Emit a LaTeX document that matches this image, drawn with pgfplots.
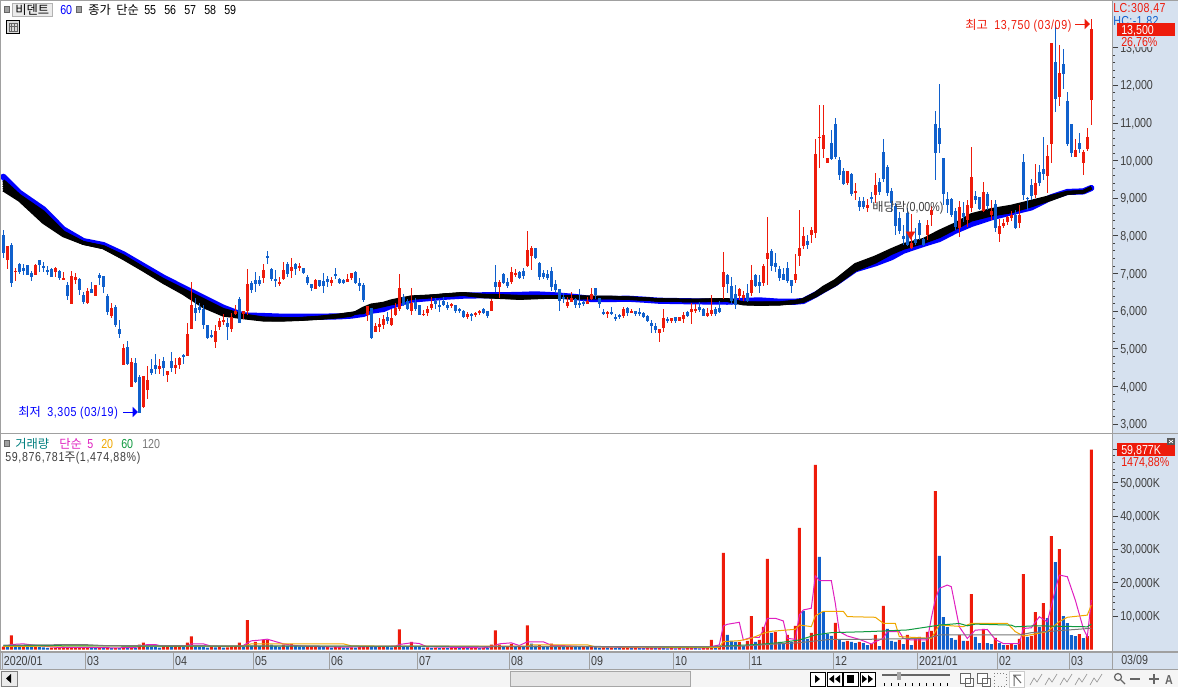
\documentclass[border=0pt]{standalone}
\usepackage{pgfplots}
\usepackage{pgfplotstable}
\usepackage{fontspec}
\pgfplotsset{compat=1.18}
\usetikzlibrary{arrows.meta}
\setmainfont{Liberation Sans}[FakeStretch=0.82]
\newfontfamily\kr{Noto Sans CJK KR}
\definecolor{cred}{HTML}{EE1B0B}
\definecolor{cblue}{HTML}{1060CC}
\definecolor{panel}{HTML}{D6E1EF}
\definecolor{frame}{HTML}{A0A0A0}
\definecolor{txt}{HTML}{404040}
\definecolor{mpink}{HTML}{E020C0}
\definecolor{morange}{HTML}{F0A800}
\definecolor{mgreen}{HTML}{109A40}
\definecolor{mgrey}{HTML}{787878}
\newcommand{\tf}{\fontsize{9.75}{11}\selectfont}
\newcommand{\kf}{\fontsize{9.2}{11}\selectfont\kr}
\newcommand{\ls}{\addfontfeatures{LetterSpace=5}}

% candles: x open high low close
\pgfplotstableread{
x o h l c
1 7360 7730 7125 7730
3 7040 7135 6800 7065
8 6970 7240 6970 7225
13 7050 7180 6915 7155
15 6835 7050 6825 6890
17 6190 7065 6190 6930
18 6835 7005 6720 6905
21 6205 6605 6190 6535
23 6400 6695 6400 6695
27 5870 6205 5810 6090
30 4570 5115 4570 5020
32 3985 4745 3985 4645
35 3450 4275 3425 4275
36 3905 4540 3655 4170
39 4460 4720 4330 4540
41 4300 4410 4115 4410
43 4490 4745 4330 4570
44 4570 4790 4460 4755
46 4805 5690 4805 5390
47 5525 6775 5525 6160
53 5180 5630 5020 5470
54 5575 5810 5500 5735
55 5720 5925 5630 5765
57 5525 5940 5445 5845
58 5925 6160 5895 6000
60 5925 6000 5790 6000
61 6000 7120 5895 6720
65 6880 7250 6740 7090
69 6730 6915 6665 6775
70 6860 7315 6825 7090
72 7065 7410 6880 7170
74 7135 7280 7065 7205
78 6585 6855 6585 6825
82 6745 6895 6665 6825
86 6775 6985 6775 6855
87 6880 7010 6825 7010
91 5895 6135 5735 6135
93 5445 5685 5445 5605
94 5575 5815 5445 5655
95 5630 5895 5525 5790
97 5630 6055 5605 5815
98 5895 6215 5870 6080
99 6055 6985 6005 6615
102 6005 6615 5895 6215
105 5895 6030 5870 5925
106 5950 6135 5870 6055
107 6080 6375 6030 6190
112 6135 6215 6080 6190
116 5845 5975 5790 5925
118 5895 5975 5845 5950
119 5950 6030 5895 6005
122 6005 6320 6005 6270
124 6640 6825 6350 6775
127 6775 7170 6720 7040
128 6960 7120 6905 7010
131 7200 8130 7170 7625
132 7465 7730 7090 7675
141 6135 6375 6080 6240
142 6240 6510 6240 6350
146 6190 6375 6190 6270
147 6320 6615 6295 6455
151 5950 6005 5815 5975
155 5870 6110 5815 6055
157 5950 6055 5950 6005
164 5420 5525 5180 5525
165 5550 6055 5445 5815
167 5735 5815 5685 5815
169 5735 5845 5735 5845
170 5790 5975 5685 5895
172 5975 6215 5655 6055
173 6030 6190 5950 6055
176 5870 6080 5845 5950
177 5925 6430 5870 6030
180 6640 7570 6320 7040
184 6400 6615 6295 6585
185 6350 6535 6270 6430
187 6480 7225 6400 6825
190 6745 7250 6665 7200
191 7385 8500 6695 7545
198 6825 7515 6745 6985
199 7465 8685 7200 7675
200 7730 8235 7650 7995
202 8020 8235 7810 8155
203 8075 10565 7940 10175
204 10600 11475 9800 10625
205 10305 11475 10060 10680
206 9935 10070 9935 10070
211 9405 9725 9350 9725
213 9140 9415 8950 9190
216 8740 8980 8635 8820
218 9085 9660 8865 9350
227 7675 8580 7640 7810
231 8020 8420 7890 8290
232 8555 8795 8260 8685
239 8200 8925 7975 8765
241 8420 8950 8245 8820
242 8740 10360 8635 9565
245 8660 9430 8635 9165
247 8555 8950 8420 8660
249 8050 8445 7835 8260
250 8260 8445 8210 8340
251 8365 8525 8290 8500
252 8475 8660 8395 8555
254 8340 8820 8210 8555
258 9085 9910 9005 9405
261 9590 10415 9140 10120
262 10440 13125 9935 13125
264 11690 13070 11450 12325
268 10095 10575 10095 10280
270 9935 10280 9615 10225
271 10305 10865 10255 10625
272 11610 13750 10945 13500
}\upc
\pgfplotstableread{
x o h l c
0 8020 8155 7420 7535
2 7755 7800 6650 6740
4 7250 7285 6975 7030
5 7145 7250 6960 7075
6 7225 7225 6970 6970
7 7020 7075 6800 6915
9 7360 7360 7050 7225
10 7200 7295 7050 7145
11 7090 7200 6950 7030
12 7125 7155 6905 6905
14 7075 7090 6825 6880
16 6695 6780 6295 6400
19 6855 6870 6435 6560
20 6430 6515 6190 6240
22 6585 6780 6470 6490
24 6960 7005 6695 6890
25 6930 6940 6470 6630
26 6410 6455 5895 5975
28 6110 6160 5585 5640
29 5525 5765 5285 5390
31 5045 5205 4570 4595
33 4620 4745 4080 4115
34 4260 4300 3305 3305
37 4460 4725 4300 4345
38 4570 4860 4330 4460
40 4675 4780 4275 4495
42 4675 4915 4390 4490
45 4835 4860 4595 4780
48 6080 6340 5735 5950
49 6110 6205 5940 6030
50 6055 6160 5525 5630
51 5630 5630 5260 5285
52 5365 5500 5285 5310
56 5685 5810 5230 5575
59 6320 6385 5685 5685
62 6745 6800 6470 6560
63 6825 7050 6515 6720
64 6825 6930 6665 6720
66 7465 7595 7250 7410
67 7120 7155 6800 6855
68 6855 7090 6650 6800
71 7250 7315 6915 6985
73 7250 7270 6960 7120
75 7145 7155 6985 7010
76 6905 6950 6695 6745
77 6720 6720 6535 6615
79 6825 6825 6640 6665
80 6800 7005 6480 6665
81 6855 6935 6640 6775
83 6985 7135 6860 6935
84 6855 6880 6720 6745
85 6825 6855 6720 6745
88 7040 7065 6720 6745
89 6745 6870 6535 6665
90 6695 6740 6240 6295
92 6090 6090 5260 5285
96 5845 5985 5655 5735
100 6375 6455 6135 6160
101 6270 6320 6030 6055
103 6240 6350 6005 6055
104 6155 6155 5895 5895
108 6270 6340 6055 6190
109 6160 6330 5975 6135
110 6270 6375 6135 6160
111 6160 6240 6030 6080
113 6160 6160 5950 6005
114 6055 6080 5950 6005
115 6005 6030 5815 5845
117 5925 5950 5735 5870
120 6055 6080 5925 5950
121 6005 6005 5815 5870
123 6775 7225 6510 6640
125 6985 7005 6720 6745
126 6775 6880 6615 6665
129 7040 7065 6855 6880
130 7065 7135 6855 6935
133 7675 7675 7385 7410
134 7280 7305 6825 6905
135 7010 7090 6855 6905
136 6985 7090 6825 6880
137 7065 7170 6535 6640
138 6720 6825 6480 6560
139 6585 6585 6005 6270
140 6375 6490 6205 6320
143 6320 6350 6080 6160
144 6215 6585 6080 6160
145 6240 6295 6135 6190
148 6615 6615 6320 6430
149 6350 6350 6080 6190
150 5975 6055 5895 5925
152 5975 6110 5895 5950
153 5845 5925 5735 5815
154 5895 5925 5790 5870
156 6080 6110 5870 5950
158 6005 6005 5870 5925
159 5975 6080 5870 5925
160 5950 5975 5815 5845
161 5870 5895 5710 5735
162 5685 5765 5420 5605
163 5605 5685 5420 5500
166 5790 5845 5685 5735
168 5845 5845 5685 5735
171 5975 6005 5845 5870
174 6110 6240 5975 6030
175 6055 6080 5870 5870
178 6055 6110 5870 5925
179 6080 6270 5950 5975
181 6960 6985 6480 6720
182 6665 6905 6160 6270
183 6455 6695 6055 6160
186 6480 6720 6240 6270
188 6960 6985 6640 6665
189 6775 6960 6480 6665
192 7595 7650 7065 7200
193 7280 7545 7040 7170
194 7120 7200 6800 6880
195 6985 7145 6825 6825
196 7145 7305 6745 6800
197 6825 6825 6480 6665
201 7865 8020 7650 7755
207 10465 10810 10015 10040
208 10970 11120 10040 10095
209 10015 10105 9485 9615
210 9725 9795 9350 9375
212 9645 9660 9060 9110
214 8925 9040 8660 8765
215 8925 9040 8705 8765
217 9030 9175 8865 8990
219 9430 9530 9085 9165
220 10230 10575 9430 9510
221 9830 9880 9060 9140
222 9190 9260 8640 8865
223 8795 8865 8020 8260
224 8475 8640 8050 8130
225 7995 8290 7755 7915
226 8605 8730 7730 7755
228 7915 8200 7755 7810
229 8340 8420 7890 8020
230 7915 7935 7730 7755
233 10970 11315 9485 10200
234 10865 12035 10190 10440
235 10070 10070 8820 9110
236 8980 9175 8600 8820
237 8980 9000 8510 8555
238 8660 8730 8155 8245
240 8600 8905 8375 8490
243 9060 9200 8845 8950
244 9030 9040 8685 8715
246 9110 9175 8685 8790
248 8845 8950 8100 8210
253 8555 8685 8180 8210
255 9960 10175 8950 9085
256 9005 9040 8685 8980
257 9350 9510 8950 9060
259 9695 9880 9325 9405
260 9775 10625 9485 9645
263 12620 13600 11290 11635
265 12565 12965 11900 12300
266 11580 11820 10385 10440
267 10970 10970 10095 10200
269 10465 10730 10200 10305
}\dnc
% moving averages of the close
\pgfplotstableread{
x m60 m55 m56 m57 m58 m59
0 9570 9220 9280 9340 9405 9465
4 9145 8950 8985 9015 9045 9075
10 8705 8360 8425 8495 8565 8635
15 8170 8005 8030 8055 8080 8100
20 7860 7800 7805 7810 7815 7820
25 7755 7685 7690 7700 7705 7710
30 7510 7400 7415 7435 7450 7465
35 7200 7090 7105 7120 7130 7145
40 6890 6765 6780 6800 6815 6835
45 6620 6470 6495 6520 6545 6570
50 6355 6120 6165 6210 6260 6305
55 6090 5895 5930 5965 6000 6040
60 5885 5825 5845 5860 5880 5895
65 5870 5765 5775 5790 5805 5815
70 5850 5765 5770 5780 5790 5800
74 5850 5780 5785 5790 5795 5800
79 5850 5810 5815 5820 5830 5835
84 5860 5850 5860 5875 5885 5895
87 5880 5895 5905 5920 5930 5940
90 5925 6075 6045 6015 5985 5960
92 6010 6160 6140 6115 6095 6075
95 6055 6205 6190 6175 6160 6145
97 6145 6270 6250 6235 6215 6195
99 6205 6315 6295 6275 6255 6235
102 6305 6375 6365 6355 6350 6340
107 6350 6400 6395 6390 6385 6385
111 6385 6435 6430 6430 6425 6420
115 6410 6465 6460 6455 6450 6445
120 6420 6420 6410 6400 6390 6385
124 6420 6410 6400 6390 6375 6365
129 6430 6390 6380 6365 6350 6340
133 6445 6390 6380 6375 6365 6355
138 6420 6375 6375 6375 6375 6375
143 6375 6385 6375 6365 6355 6350
147 6320 6365 6365 6360 6360 6355
152 6320 6365 6365 6360 6360 6355
156 6330 6350 6345 6345 6340 6340
160 6305 6325 6325 6325 6325 6325
164 6275 6295 6295 6295 6295 6295
172 6260 6280 6280 6280 6280 6280
181 6250 6305 6300 6295 6290 6285
185 6270 6215 6210 6205 6200 6195
189 6285 6215 6205 6200 6190 6180
194 6250 6215 6210 6200 6195 6190
198 6250 6260 6250 6240 6235 6225
200 6270 6305 6295 6280 6270 6260
203 6435 6470 6455 6435 6420 6400
205 6560 6630 6605 6580 6550 6525
208 6740 6810 6785 6755 6730 6700
213 7110 7235 7200 7165 7130 7090
218 7270 7435 7400 7370 7335 7305
222 7430 7630 7610 7585 7560 7535
225 7605 7765 7740 7715 7690 7670
230 7785 7900 7880 7860 7845 7825
234 7915 8120 8085 8050 8015 7980
238 8135 8315 8285 8255 8230 8200
242 8315 8560 8525 8490 8455 8420
247 8490 8695 8660 8625 8590 8555
252 8625 8785 8750 8715 8680 8640
257 8755 8915 8885 8860 8830 8800
262 9025 9050 9030 9010 8990 8970
266 9165 9155 9150 9140 9135 9130
270 9180 9175 9170 9170 9165 9165
272 9270 9280 9280 9275 9275 9270
}\mas
% volume (thousand shares), up and down days
\pgfplotstableread{
x v
0 900
2 4200
5 1000
8 850
12 550
13 600
14 650
15 700
16 600
17 650
18 700
19 650
20 600
21 650
24 550
26 500
28 450
30 500
32 500
34 1500
35 2100
40 700
41 750
43 900
44 900
46 2100
47 3900
52 700
54 700
56 650
57 800
58 900
59 2100
61 8830
63 2250
65 2900
66 2900
70 1500
72 1700
76 850
77 900
78 950
81 750
83 700
84 800
87 650
89 700
90 800
91 900
94 800
95 850
98 1000
99 6000
102 2300
106 650
108 550
110 500
112 450
113 500
115 500
117 500
118 550
120 550
122 1500
123 5700
124 1500
126 900
127 1700
129 900
131 7200
134 1300
137 1800
139 1300
141 1000
142 1100
145 800
147 800
150 650
152 600
155 550
156 600
158 550
161 450
162 500
164 450
167 400
169 400
171 400
172 450
175 400
176 600
177 2850
179 1050
180 28950
184 2250
186 2550
187 10000
189 2850
190 6750
191 27150
193 5250
196 4350
198 7050
199 36400
202 4950
203 55250
208 7950
211 2550
214 2250
217 1650
218 4350
220 13050
224 2850
226 4350
228 3150
229 3750
231 5250
232 5550
233 47450
239 4350
241 2550
242 16600
245 6150
248 3450
251 1350
252 1650
254 3150
255 22600
257 4050
258 11230
260 13900
262 33980
264 30090
269 4640
271 4040
272 59877
}\volup
\pgfplotstableread{
x v
1 700
3 1300
4 900
6 900
7 800
9 700
10 650
11 500
22 600
23 500
25 450
27 400
29 400
31 450
33 450
36 800
37 700
38 700
39 600
42 700
45 800
48 900
49 700
50 700
51 600
53 650
55 600
60 800
62 1200
64 1100
67 1500
68 1000
69 700
71 1000
73 1000
74 900
75 800
79 800
80 700
82 600
85 600
86 550
88 600
92 800
93 700
96 700
97 650
100 1000
101 900
103 800
104 700
105 600
107 500
109 450
111 400
114 450
116 450
119 500
121 500
125 800
128 800
130 800
132 1800
133 1200
135 1000
136 800
138 800
140 900
143 800
144 700
146 700
148 700
149 600
151 550
153 500
154 450
157 500
159 450
160 400
163 400
165 400
166 350
168 350
170 350
173 400
174 350
178 500
181 4350
182 2550
183 2250
185 1050
188 2250
192 4950
194 2250
195 1650
197 2250
200 11550
201 3150
204 27700
205 11250
206 4650
207 4050
209 2850
210 2250
212 2250
213 1950
215 1950
216 1350
219 1050
221 6150
222 2550
223 2250
225 1650
227 1350
230 2250
234 28000
235 9730
236 6740
237 3440
238 2850
240 2550
243 3750
244 1950
246 1950
247 1650
249 1950
250 1350
253 1350
256 3750
259 6740
261 9430
263 26200
265 10030
266 7930
267 4340
268 4040
270 3440
}\voldn

\begin{document}
\begin{tikzpicture}[x=0.75pt,y=-0.75pt,font=\tf]
\path[use as bounding box] (0,0) rectangle (1178,687);
\fill[white] (0,0) rectangle (1178,687);
\fill[panel] (1112,0) rectangle (1178,669);
\fill[panel] (0,652) rectangle (1178,669);
\fill[black!4] (0,670) rectangle (1178,687);

% price panel
\begin{axis}[
  at={(0.75pt,-324.75pt)}, anchor=south west,
  scale only axis, width=833.25pt, height=324pt,
  xmin=-0.575, xmax=277.175, ymin=2761, ymax=14239,
  xtick=\empty,
  ytick={3000,4000,5000,6000,7000,8000,9000,10000,11000,12000,13000},
  minor y tick num=4, ytick pos=right, tick align=outside,
  major tick length=4.5pt, minor tick length=2.25pt,
  tick style={color=txt, line width=0.6pt},
  axis line style={draw=none},
  scaled y ticks=false,
  /pgf/number format/assume math mode=true,
  /pgf/number format/1000 sep={,},
  yticklabel style={font=\tf, text=txt, anchor=west, inner xsep=1.5pt, yshift=-0.7pt},
  clip=true,
]
\addplot[blue, line width=4.6pt, line join=round, line cap=round] table[x=x,y=m60] {\mas};
\addplot[black, line width=2.4pt, line join=round] table[x=x,y=m55] {\mas};
\addplot[black, line width=2.4pt, line join=round] table[x=x,y=m56] {\mas};
\addplot[black, line width=2.4pt, line join=round] table[x=x,y=m57] {\mas};
\addplot[black, line width=2.4pt, line join=round] table[x=x,y=m58] {\mas};
\addplot[black, line width=2.4pt, line join=round] table[x=x,y=m59] {\mas};
% wicks
\addplot[draw=none, mark=none, error bars/.cd, y dir=both, y explicit, error mark=none,
  error bar style={draw=cred, line width=0.75pt}]
  table[x=x, y expr={(\thisrow{h}+\thisrow{l})/2}, y error expr={(\thisrow{h}-\thisrow{l})/2}] {\upc};
\addplot[draw=none, mark=none, error bars/.cd, y dir=both, y explicit, error mark=none,
  error bar style={draw=cblue, line width=0.75pt}]
  table[x=x, y expr={(\thisrow{h}+\thisrow{l})/2}, y error expr={(\thisrow{h}-\thisrow{l})/2}] {\dnc};
% bodies
\addplot[draw=none, mark=none, error bars/.cd, y dir=both, y explicit, error mark=none,
  error bar style={draw=cred, line width=2.25pt}]
  table[x=x, y expr={(\thisrow{o}+\thisrow{c})/2}, y error expr={(\thisrow{c}-\thisrow{o})/2}] {\upc};
\addplot[draw=none, mark=none, error bars/.cd, y dir=both, y explicit, error mark=none,
  error bar style={draw=cblue, line width=2.25pt}]
  table[x=x, y expr={(\thisrow{o}+\thisrow{c})/2}, y error expr={(\thisrow{o}-\thisrow{c})/2}] {\dnc};
% ex-dividend marker
\addplot[only marks, mark=triangle*, mark size=3.6pt, color=cred, mark options={rotate=180}] coordinates {(226.8,8040)};
\end{axis}

% volume panel
\begin{axis}[
  at={(0.75pt,-488.25pt)}, anchor=south west,
  scale only axis, width=833.25pt, height=162.75pt,
  xmin=-0.575, xmax=277.175, ymin=-449, ymax=64521,
  xtick={-0.3,20.5,42.5,62.5,81.5,103.5,126.5,146.5,167.5,186.5,207.5,228.5,248.5,266.5},
  xticklabels={2020/01,03,04,05,06,07,08,09,10,11,12,2021/01,02,03},
  xtick pos=bottom,
  xtick style={/pgfplots/major tick length=13.5pt, color=frame, line width=0.75pt},
  xticklabel style={font=\tf, text=txt, anchor=west, inner xsep=1.2pt, yshift=-3pt},
  ytick={10000,20000,30000,40000,50000,60000},
  yticklabel={\pgfmathprintnumber{\tick}K},
  minor y tick num=4, ytick pos=right, tick align=outside,
  major tick length=4.5pt, minor tick length=2.25pt,
  ytick style={color=txt, line width=0.6pt},
  axis line style={draw=none},
  scaled y ticks=false,
  /pgf/number format/assume math mode=true,
  /pgf/number format/1000 sep={,},
  yticklabel style={font=\tf, text=txt, anchor=west, inner xsep=1.5pt, yshift=-0.6pt},
]
\addplot[ybar, bar width=2.25pt, bar shift=0pt, fill=cred, draw=none] table[x=x,y=v] {\volup};
\addplot[ybar, bar width=2.25pt, bar shift=0pt, fill=cblue, draw=none] table[x=x,y=v] {\voldn};
\addplot[mpink, line width=0.75pt] coordinates {(0,800)(2,1500)(5,1700)(9,1100)(14,600)(20,650)(28,500)(33,600)(36,1500)(38,1500)(40,900)(46,1000)(47,1700)(50,1700)(52,1000)(59,900)(60,1200)(62,2600)(64,2800)(66,3100)(68,2400)(70,1700)(72,1300)(75,1000)(85,700)(98,1000)(99,1500)(102,2000)(104,1800)(106,800)(120,500)(122,800)(124,1700)(127,2000)(129,1200)(131,2300)(135,2300)(137,1300)(145,900)(160,500)(176,500)(177,900)(179,1350)(180,7050)(181,7550)(184,8150)(185,2850)(187,3650)(189,3650)(190,5850)(191,9350)(193,9350)(195,8550)(196,3350)(198,3050)(199,10350)(200,11850)(202,12350)(203,22050)(204,20650)(207,20650)(208,13850)(209,5350)(211,4050)(214,3050)(217,1650)(218,2350)(220,3350)(221,5350)(224,5350)(225,3350)(227,2850)(231,2850)(232,9350)(233,15000)(234,18300)(236,19300)(237,18800)(239,6800)(241,3300)(243,5800)(246,6000)(248,3000)(250,1800)(254,1800)(255,6300)(257,6500)(259,9800)(261,8300)(262,13000)(263,18000)(264,22300)(266,21800)(268,14800)(270,6300)(271,3800)(272,14800)};
\addplot[morange, line width=0.75pt] coordinates {(0,900)(20,1100)(40,1000)(60,1000)(62,1700)(85,1700)(87,1100)(99,1000)(131,1000)(132,1400)(146,1400)(148,800)(176,600)(179,650)(180,2350)(184,2650)(187,3350)(190,4850)(192,5450)(198,6050)(199,7350)(202,6850)(203,10050)(205,11450)(210,11450)(211,9850)(218,9650)(220,7850)(223,7850)(224,3850)(232,3350)(234,7350)(240,6850)(242,7850)(251,7850)(253,5350)(255,4050)(258,4650)(261,5350)(264,8350)(266,9650)(271,10300)(272,13300)};
\addplot[mgreen, line width=0.75pt] coordinates {(0,1200)(40,1000)(80,1000)(120,900)(176,800)(189,1550)(194,2050)(199,2850)(203,4350)(207,5050)(216,5350)(226,5850)(234,7300)(239,7800)(241,7100)(243,7600)(252,7300)(253,6800)(258,7100)(271,6800)(272,7600)};
\addplot[mgrey, line width=0.75pt] coordinates {(0,1300)(20,1500)(25,1200)(60,1100)(100,1000)(176,850)(185,1050)(199,2050)(207,3050)(216,3050)(231,3350)(234,4350)(254,4350)(257,5050)(272,6350)};
\end{axis}

% frames
\draw[frame, line width=1.1pt] (0.5,0) -- (0.5,669);
\draw[frame, line width=0.75pt] (0,0.5) -- (1178,0.5);
\draw[frame, line width=1.1pt] (1112.5,0) -- (1112.5,669);
\draw[frame, line width=1.1pt] (0,433.5) -- (1178,433.5);
\draw[frame, line width=1.1pt] (0,652) -- (1178,652);
\draw[frame, line width=1.1pt] (0,669.5) -- (1178,669.5);
\node[anchor=base west, inner sep=0, text=txt] at (1121,664) {03/09};

% price header
\fill[frame] (4,6) rectangle (9,12); \draw[black!60,line width=.4pt] (4,6) rectangle (9,12);
\draw[black!30, fill=black!8, line width=.75pt] (12,3) rectangle (52,16);
\node[anchor=base west, inner sep=0] at (15,14) {\kf 비덴트};
\node[anchor=base west, inner sep=0, text=blue] at (60,14) {60};
\fill[frame] (76,6) rectangle (81,12); \draw[black!60,line width=.4pt] (76,6) rectangle (81,12);
\node[anchor=base west, inner sep=0] at (88,14) {\kf 종가};
\node[anchor=base west, inner sep=0] at (116,14) {\kf 단순};
\foreach \xx/\tt in {144/55,164/56,184/57,204/58,224/59}
  \node[anchor=base west, inner sep=0] at (\xx,14) {\tt};
\draw[black, line width=.75pt, fill=black!15] (6.5,20.5) rectangle (19.5,33.5);
\draw[black!60, line width=.4pt] (9,23) rectangle (17,31) (9,26) -- (17,26) (11.7,23) -- (11.7,31) (14.3,23) -- (14.3,31);

% price labels on the right
\node[anchor=base west, inner sep=0, text=cred] at (1113,12) {\addfontfeatures{LetterSpace=3}LC:308,47};
\node[anchor=base west, inner sep=0, text=cblue] at (1113,25) {\addfontfeatures{LetterSpace=3}HC:-1,82};
\fill[panel] (1119,36) rectangle (1162,47);
\fill[cred] (1117,23) rectangle (1175,36);
\node[anchor=base west, inner sep=0, text=white] at (1121,34) {13,500};
\node[anchor=base west, inner sep=0, text=cred] at (1121,46) {26,76\%};

% notes
\node[anchor=base west, inner sep=0, text=cred] at (965,29) {\kf 최고};
\node[anchor=base west, inner sep=0, text=cred] at (994,29) {\ls 13,750 (03/09)};
\draw[cred, line width=.75pt, -{Triangle[length=4pt,width=7.5pt]}] (1075,24) -- (1090,24);
\node[anchor=base west, inner sep=0, text=blue] at (18,416) {\kf 최저};
\node[anchor=base west, inner sep=0, text=blue] at (47,416) {\ls 3,305 (03/19)};
\draw[blue, line width=.75pt, -{Triangle[length=4pt,width=7.5pt]}] (123,412) -- (138,412);
\node[anchor=base west, inner sep=0, text=txt] at (872,211) {{\kf 배당락}(0,00\%)};

% volume header
\fill[frame] (4,440) rectangle (9,446); \draw[black!60,line width=.4pt] (4,440) rectangle (9,446);
\node[anchor=base west, inner sep=0, text=teal] at (15,448) {\kf 거래량};
\node[anchor=base west, inner sep=0, text=mpink] at (59,448) {\kf 단순};
\node[anchor=base west, inner sep=0, text=mpink] at (87,448) {5};
\node[anchor=base west, inner sep=0, text=morange] at (101,448) {20};
\node[anchor=base west, inner sep=0, text=mgreen] at (121,448) {60};
\node[anchor=base west, inner sep=0, text=mgrey] at (142,448) {120};
\node[anchor=base west, inner sep=0, text=txt] at (5,461) {\ls 59,876,781{\kf 주}(1,474,88\%)};

% volume labels on the right
\fill[panel] (1119,456) rectangle (1170,467);
\fill[cred] (1117,443) rectangle (1175,456);
\node[anchor=base west, inner sep=0, text=white] at (1121,454) {59,877K};
\node[anchor=base west, inner sep=0, text=cred] at (1121,466) {1474,88\%};
\fill[black!65] (1167,438) rectangle (1175,445);
\draw[white, line width=.5pt] (1169,440) -- (1173,443) (1169,443) -- (1173,440);

% scroll bar and tool buttons
\draw[black!50, fill=black!8, line width=.5pt] (1,671) rectangle (17,686);
\fill[black] (6,678.5) -- (11,674) -- (11,683) -- cycle;
\draw[black!35, fill=black!10, line width=.5pt] (510,671) rectangle (690,686);
\foreach \bx in {810,827,843,860} \draw[black, fill=white, line width=.6pt] (\bx,672) rectangle (\bx+15,686);
\fill[black] (815,675) -- (820,679) -- (815,683) -- cycle;
\fill[black] (829,679) -- (834,675) -- (834,683) -- cycle (835,679) -- (840,675) -- (840,683) -- cycle;
\fill[black] (847,675) rectangle (854,683);
\fill[black] (862,675) -- (867,679) -- (862,683) -- cycle (868,675) -- (873,679) -- (868,683) -- cycle;
\draw[black!60, line width=1pt] (882,675) -- (950,675);
\fill[black!35] (897,672) rectangle (901,680);
\foreach \tx in {884,891,...,947} \draw[black, line width=.5pt] (\tx,683) -- (\tx,686);
\draw[black!60, fill=white, line width=.5pt] (960,673) rectangle (970,683) (965,678) rectangle (973,686);
\draw[black!60, fill=white, line width=.5pt] (977,673) rectangle (987,683) (982,678) rectangle (990,686);
\draw[black!50, dotted, line width=.5pt] (994,673) rectangle (1006,686);
\draw[black!20, fill=white, line width=.5pt] (1009,671) rectangle (1024,687);
\draw[black!60, line width=.75pt] (1013,675) -- (1021,675) (1014,675) -- (1014,686) (1015,676) -- (1021,683);
\foreach \ix in {1030,1045,1060,1075,1090} \draw[black!40, line width=.5pt] (\ix,685) -- (\ix+4,678) -- (\ix+7,682) -- (\ix+12,674);
\draw[black!60, line width=.9pt] (1118,677) circle (3.5) (1121,680) -- (1125,684);
\draw[black!60, line width=1.5pt] (1130,679) -- (1140,679);
\draw[black!60, line width=1.5pt] (1149,679) -- (1159,679) (1154,674) -- (1154,684);
\node[anchor=base, inner sep=0, text=black!60] at (1169,684) {\textbf{A}};
\end{tikzpicture}
\end{document}
